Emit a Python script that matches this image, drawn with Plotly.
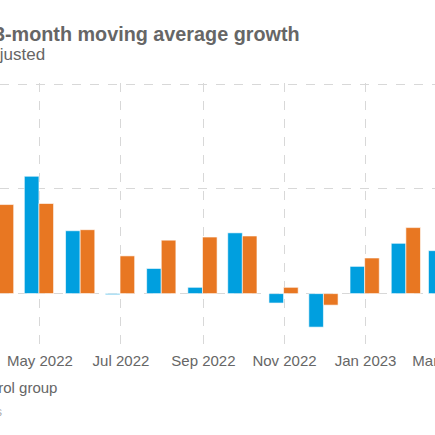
import pandas as pd
import plotly.graph_objects as go

# monthly 3-month moving average growth, seasonally adjusted (%)
months = ["2022-04-01", "2022-05-01", "2022-06-01", "2022-07-01", "2022-08-01", "2022-09-01",
          "2022-10-01", "2022-11-01", "2022-12-01", "2023-01-01", "2023-02-01", "2023-03-01"]
treatment = [0.90, 1.12, 0.60, -0.01, 0.24, 0.06, 0.58, -0.09, -0.32, 0.26, 0.48, 0.41]
control = [0.85, 0.86, 0.61, 0.36, 0.51, 0.54, 0.55, 0.06, -0.11, 0.34, 0.63, 0.55]

BLUE = "#009FDF"
ORANGE = "#E87722"
GREY = "#666666"
GRID = "#d8d8d8"
FONT = "Liberation Sans, Arial, sans-serif"

day_ms = 24 * 3600 * 1000
bar_w = 11 * day_ms  # width of one bar on the date axis

fig = go.Figure()
fig.add_trace(go.Bar(
    x=months, y=treatment, name="Treatment group",
    width=bar_w, offset=-bar_w - 0.7 * day_ms,
    marker=dict(color=BLUE, line=dict(color="rgba(255,255,255,0.6)", width=1)),
))
fig.add_trace(go.Bar(
    x=months, y=control, name="Control group",
    width=bar_w, offset=-0.7 * day_ms,
    marker=dict(color=ORANGE, line=dict(color="rgba(255,255,255,0.6)", width=1)),
))

# the view is cropped: the chart is wider than the window
W = 520
x_start = pd.Timestamp("2022-04-01")
x_end = x_start + pd.Timedelta(days=W / 1.3294)
PH = 263.5  # plot height in px

fig.update_layout(
    width=W, height=435,
    barmode="overlay",
    plot_bgcolor="white", paper_bgcolor="white",
    margin=dict(l=0, r=0, t=82.5, b=89, autoexpand=False),
    font=dict(family=FONT, color=GREY, size=15),
    showlegend=True,
    legend=dict(orientation="h", x=58 / W + 0.01, xanchor="right", y=-(387 - 346) / PH,
                yanchor="middle", font=dict(size=15, color=GREY), traceorder="normal"),
    xaxis=dict(type="date", range=[x_start, x_end], dtick="M2", tick0="2022-05-01",
               tickformat="%b %Y", tickangle=0, ticklabelstandoff=4, showgrid=True,
               gridcolor=GRID, griddash="dash", gridwidth=1, zeroline=False,
               showline=False, ticks="", tickfont=dict(size=15, color=GREY)),
    yaxis=dict(range=[-0.5, 2.01], dtick=1, tick0=0, showgrid=True, gridcolor=GRID,
               griddash="dash", gridwidth=1, zeroline=False, showticklabels=False),
    annotations=[
        dict(text="<b>3-month moving average growth</b>", xref="paper", yref="paper",
             x=302 / W, xanchor="right", y=1 + (82.5 - 33) / PH, yanchor="middle",
             showarrow=False, font=dict(size=19.8, color=GREY)),
        dict(text="Seasonally adjusted", xref="paper", yref="paper",
             x=47 / W, xanchor="right", y=1 + (82.5 - 54) / PH, yanchor="middle",
             showarrow=False, font=dict(size=17, color=GREY)),
        dict(text="Source: company reports", xref="paper", yref="paper",
             x=4 / W, xanchor="right", y=-(412 - 346) / PH, yanchor="middle",
             showarrow=False, font=dict(size=12, color="#aaaaaa")),
    ],
)

fig.write_html("out.html", config={"displayModeBar": False},
               post_script="document.body.style.margin='0';document.body.style.overflow='hidden';")
